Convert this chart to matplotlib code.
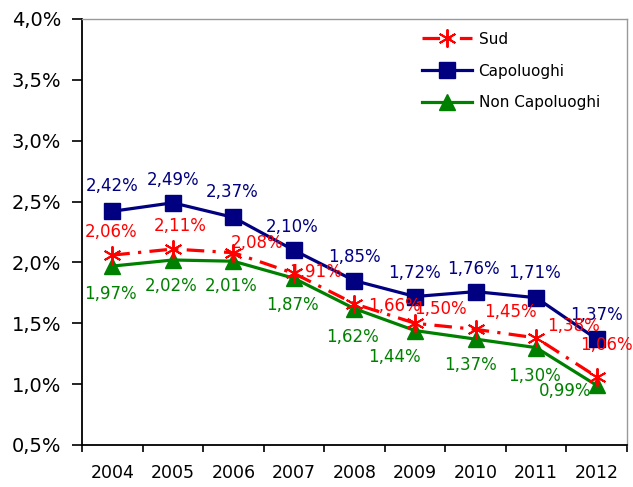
#!/usr/bin/env python3
import matplotlib
matplotlib.use('Agg')
import matplotlib.pyplot as plt

years = ['2004', '2005', '2006', '2007', '2008', '2009', '2010', '2011', '2012']
sud = [2.06, 2.11, 2.08, 1.91, 1.66, 1.50, 1.45, 1.38, 1.06]
capoluoghi = [2.42, 2.49, 2.37, 2.10, 1.85, 1.72, 1.76, 1.71, 1.37]
non_capoluoghi = [1.97, 2.02, 2.01, 1.87, 1.62, 1.44, 1.37, 1.30, 0.99]

# label offsets in pixels (x right, y up), placed by hand like in the original
off_sud = [(-1, 23), (7, 23), (24, 10), (22, 1), (40, -2), (25, 14), (35, 17), (37, 12), (10, 32)]
off_cap = [(0, 25), (0, 23), (-1, 25), (-2, 23), (0, 24), (-1, 24), (-2, 23), (-2, 25), (0, 24)]
off_non = [(-2, -28), (-2, -26), (-2, -25), (-2, -27), (-2, -28), (-21, -26), (-5, -26), (-2, -28), (-32, -6)]

RED = '#ff0000'
NAVY = '#000080'
GREEN = '#008000'


def fmt(v, dec=2):
    return '{:.{}f}%'.format(v, dec).replace('.', ',')


def add_labels(ax, values, offsets, color):
    for i, v in enumerate(values):
        ax.annotate(fmt(v), (i, v), xytext=offsets[i], textcoords='offset pixels',
                    ha='center', va='center', color=color, fontsize=12, zorder=5)


def main():
    fig = plt.figure(figsize=(6.33, 4.87), dpi=100)
    ax = fig.add_axes([82 / 633, 42 / 487, 545 / 633, 426 / 487])
    x = list(range(len(years)))

    ax.plot(x, capoluoghi, color=NAVY, lw=2.3, marker='s', markersize=11.5,
            label='Capoluoghi', zorder=3)
    ax.plot(x, non_capoluoghi, color=GREEN, lw=2.3, marker='^', markersize=11.5,
            label='Non Capoluoghi', zorder=3)
    ax.plot(x, sud, color=RED, lw=2.3, dashes=(5.5, 2.6, 1, 2.6), marker=(6, 2, 0),
            markersize=13, markeredgewidth=1.4, label='Sud', zorder=4)

    add_labels(ax, capoluoghi, off_cap, NAVY)
    add_labels(ax, sud, off_sud, RED)
    add_labels(ax, non_capoluoghi, off_non, GREEN)

    ax.set_ylim(0.5, 4.0)
    ax.set_yticks([0.5 + 0.5 * k for k in range(8)])
    ax.set_yticklabels([fmt(0.5 + 0.5 * k, 1) for k in range(8)], fontsize=14)
    ax.tick_params(axis='y', direction='out', length=7, width=1.2, pad=8)

    ax.set_xlim(-0.5, len(years) - 0.5)
    ax.set_xticks([i - 0.5 for i in range(len(years) + 1)])
    ax.set_xticklabels([])
    ax.set_xticks(x, minor=True)
    ax.set_xticklabels(years, minor=True, fontsize=12.5)
    ax.tick_params(axis='x', which='major', direction='out', length=5, width=1.2)
    ax.tick_params(axis='x', which='minor', length=0, pad=14)

    for side in ('left', 'bottom'):
        ax.spines[side].set_color('black')
        ax.spines[side].set_linewidth(1.3)
    for side in ('top', 'right'):
        ax.spines[side].set_color('#999999')
        ax.spines[side].set_linewidth(1.0)

    handles, labels = ax.get_legend_handles_labels()
    order = [2, 0, 1]
    ax.legend([handles[i] for i in order], [labels[i] for i in order],
              loc='upper left', bbox_to_anchor=(0.624, 0.97), frameon=False,
              fontsize=11, handlelength=3.3, labelspacing=1.1, handletextpad=0.4,
              borderpad=0, borderaxespad=0)

    fig.savefig('out.png', dpi=100)


if __name__ == '__main__':
    main()
